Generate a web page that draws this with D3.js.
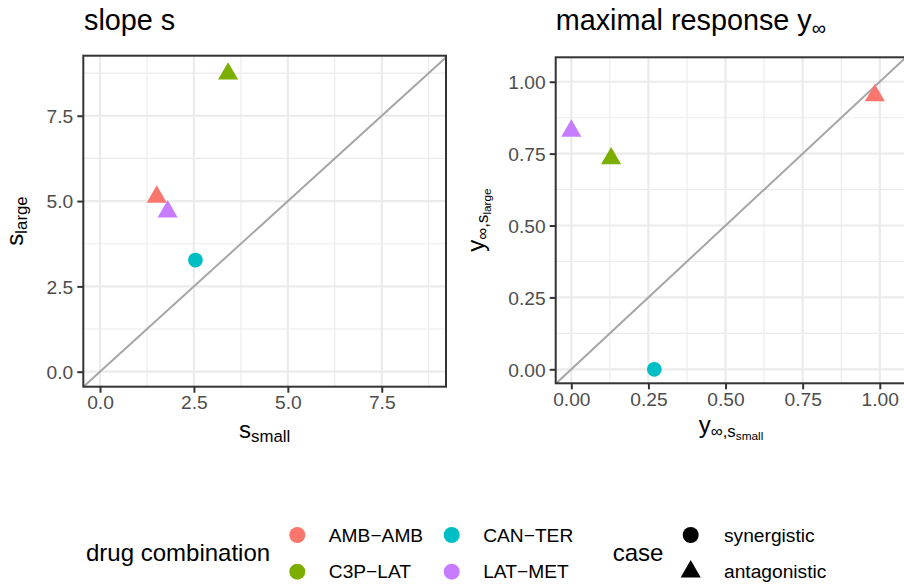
<!DOCTYPE html>
<html>
<head>
<meta charset="utf-8">
<script src="https://cdn.jsdelivr.net/npm/d3@7"></script>
<style>
  body { margin: 0; background: #fff; }
  svg { display: block; font-family: "Liberation Sans", Arial, Helvetica, sans-serif; }
</style>
</head>
<body>
<svg id="chart" width="904" height="585"></svg>
<script>
// drug combination data
const combos = ['AMB\u2212AMB', 'C3P\u2212LAT', 'CAN\u2212TER', 'LAT\u2212MET'];
const cases = ['antagonistic', 'antagonistic', 'synergistic', 'antagonistic'];
const sSmall = [1.51, 3.41, 2.54, 1.80];
const sLarge = [5.12, 8.73, 3.27, 4.69];
const yInfSmall = [0.984, 0.129, 0.269, 0.0];
const yInfLarge = [0.952, 0.733, 0.0, 0.829];

const comboColors = ['#F8766D', '#7CAE00', '#00BFC4', '#C77CFF'];
const caseLevels = ['synergistic', 'antagonistic'];

const slopeTicks = [0, 2.5, 5, 7.5];
const slopeMinor = [1.25, 3.75, 6.25, 8.75];
const respTicks = [0, 0.25, 0.5, 0.75, 1];
const respMinor = [0.125, 0.375, 0.625, 0.875];

const svg = d3.select('#chart');
const colour = d3.scaleOrdinal().domain(combos).range(comboColors);
const shape = d3.scaleOrdinal().domain(caseLevels).range([d3.symbolCircle, d3.symbolTriangle]);
const symSize = c => c === 'synergistic' ? Math.PI * 7.4 * 7.4 : 175;

const rows = combos.map((c, i) => ({
  combo: c, kind: cases[i],
  sS: sSmall[i], sL: sLarge[i], yS: yInfSmall[i], yL: yInfLarge[i]
}));

function panel(opt) {
  const g = svg.append('g');
  const x = d3.scaleLinear().domain(opt.xDom).range([opt.left, opt.right]);
  const y = d3.scaleLinear().domain(opt.yDom).range([opt.bottom, opt.top]);
  const clipId = 'clip-' + opt.id;
  svg.append('clipPath').attr('id', clipId).append('rect')
    .attr('x', opt.left).attr('y', opt.top)
    .attr('width', opt.right - opt.left).attr('height', opt.bottom - opt.top);
  const inner = g.append('g').attr('clip-path', `url(#${clipId})`);

  // grid
  const grid = (vals, w, vertical) => inner.append('g').selectAll('line').data(vals).join('line')
    .attr('x1', d => vertical ? x(d) : opt.left).attr('x2', d => vertical ? x(d) : opt.right)
    .attr('y1', d => vertical ? opt.top : y(d)).attr('y2', d => vertical ? opt.bottom : y(d))
    .attr('stroke', '#EBEBEB').attr('stroke-width', w);
  grid(opt.minor, 1.1, true);
  grid(opt.minor, 1.1, false);
  grid(opt.ticks, 2.2, true);
  grid(opt.ticks, 2.2, false);

  // y = x reference line
  const lo = Math.min(opt.xDom[0], opt.yDom[0]), hi = Math.max(opt.xDom[1], opt.yDom[1]);
  inner.append('line')
    .attr('x1', x(lo)).attr('y1', y(lo)).attr('x2', x(hi)).attr('y2', y(hi))
    .attr('stroke', '#A6A6A6').attr('stroke-width', 2);

  // points
  inner.append('g').selectAll('path').data(rows).join('path')
    .attr('transform', d => `translate(${x(d[opt.xKey])},${y(d[opt.yKey])})`)
    .attr('d', d => d3.symbol().type(shape(d.kind)).size(symSize(d.kind))())
    .attr('fill', d => colour(d.combo));

  // border
  g.append('rect')
    .attr('x', opt.left).attr('y', opt.top)
    .attr('width', opt.right - opt.left).attr('height', opt.bottom - opt.top)
    .attr('fill', 'none').attr('stroke', '#333333').attr('stroke-width', 2);

  // axes
  const xAxis = g.append('g').attr('transform', `translate(0,${opt.bottom})`)
    .call(d3.axisBottom(x).tickValues(opt.ticks).tickFormat(opt.fmt).tickSize(6).tickPadding(3));
  const yAxis = g.append('g').attr('transform', `translate(${opt.left},0)`)
    .call(d3.axisLeft(y).tickValues(opt.ticks).tickFormat(opt.fmt).tickSize(6).tickPadding(4));
  [xAxis, yAxis].forEach(a => {
    a.select('.domain').remove();
    a.selectAll('.tick line').attr('stroke', '#333333').attr('stroke-width', 2);
    a.selectAll('.tick text').attr('fill', '#4D4D4D').attr('font-size', 19.2)
      .attr('font-family', '"Liberation Sans", Arial, sans-serif');
  });
  yAxis.selectAll('.tick text').attr('dy', '0.35em');
  return { x, y };
}

panel({
  id: 'slope', left: 83.3, right: 446, top: 55.7, bottom: 386.7,
  xDom: [-0.445, 9.21], yDom: [-0.44, 9.26],
  ticks: slopeTicks, minor: slopeMinor, fmt: d3.format('.1f'),
  xKey: 'sS', yKey: 'sL'
});
panel({
  id: 'resp', left: 555.7, right: 906, top: 57.3, bottom: 383.3,
  xDom: [-0.0506, 1.085], yDom: [-0.0487, 1.085],
  ticks: respTicks, minor: respMinor, fmt: d3.format('.2f'),
  xKey: 'yS', yKey: 'yL'
});

// titles
svg.append('text').attr('x', 84).attr('y', 30).attr('font-size', 28.8).text('slope s');
const t2 = svg.append('text').attr('x', 555.7).attr('y', 30).attr('font-size', 28.8);
t2.append('tspan').text('maximal response y');
t2.append('tspan').attr('font-size', 20).attr('dy', 5).text('\u221E');

// axis titles
const xt1 = svg.append('text').attr('x', 264.7).attr('y', 438).attr('text-anchor', 'middle').attr('font-size', 24);
xt1.append('tspan').text('s');
xt1.append('tspan').attr('font-size', 16.8).attr('dy', 4).text('small');

const xt2 = svg.append('text').attr('x', 731).attr('y', 433).attr('text-anchor', 'middle').attr('font-size', 24);
xt2.append('tspan').text('y');
xt2.append('tspan').attr('font-size', 16.8).attr('dy', 4).text('\u221E,s');
xt2.append('tspan').attr('font-size', 11.8).attr('dy', 3).text('small');

const yt1 = svg.append('text').attr('transform', 'translate(23,221) rotate(-90)')
  .attr('text-anchor', 'middle').attr('font-size', 24);
yt1.append('tspan').text('s');
yt1.append('tspan').attr('font-size', 16.8).attr('dy', 4).text('large');

const yt2 = svg.append('text').attr('transform', 'translate(484,220) rotate(-90)')
  .attr('text-anchor', 'middle').attr('font-size', 24);
yt2.append('tspan').text('y');
yt2.append('tspan').attr('font-size', 16.8).attr('dy', 4).text('\u221E,s');
yt2.append('tspan').attr('font-size', 11.8).attr('dy', 3).text('large');

// legend: drug combination
const leg = svg.append('g');
leg.append('text').attr('x', 86).attr('y', 553).attr('dy', '0.35em').attr('font-size', 24).text('drug combination');
const legRowY = [535, 571.7];
const legColX = [297.3, 451.7];
combos.forEach((c, i) => {
  const col = Math.floor(i / 2), row = i % 2;
  leg.append('path')
    .attr('transform', `translate(${legColX[col]},${legRowY[row]})`)
    .attr('d', d3.symbol().type(d3.symbolCircle).size(Math.PI * 8 * 8)())
    .attr('fill', colour(c));
  leg.append('text').attr('x', legColX[col] + 31.5).attr('y', legRowY[row]).attr('dy', '0.35em')
    .attr('font-size', 19.2).text(c);
});

// legend: case
leg.append('text').attr('x', 612.7).attr('y', 553).attr('dy', '0.35em').attr('font-size', 24).text('case');
caseLevels.forEach((k, i) => {
  leg.append('path')
    .attr('transform', `translate(690.7,${legRowY[i]})`)
    .attr('d', d3.symbol().type(shape(k)).size(k === 'synergistic' ? Math.PI * 8 * 8 : 175)())
    .attr('fill', '#000');
  leg.append('text').attr('x', 724).attr('y', legRowY[i]).attr('dy', '0.35em')
    .attr('font-size', 19.2).text(k);
});
</script>
</body>
</html>
